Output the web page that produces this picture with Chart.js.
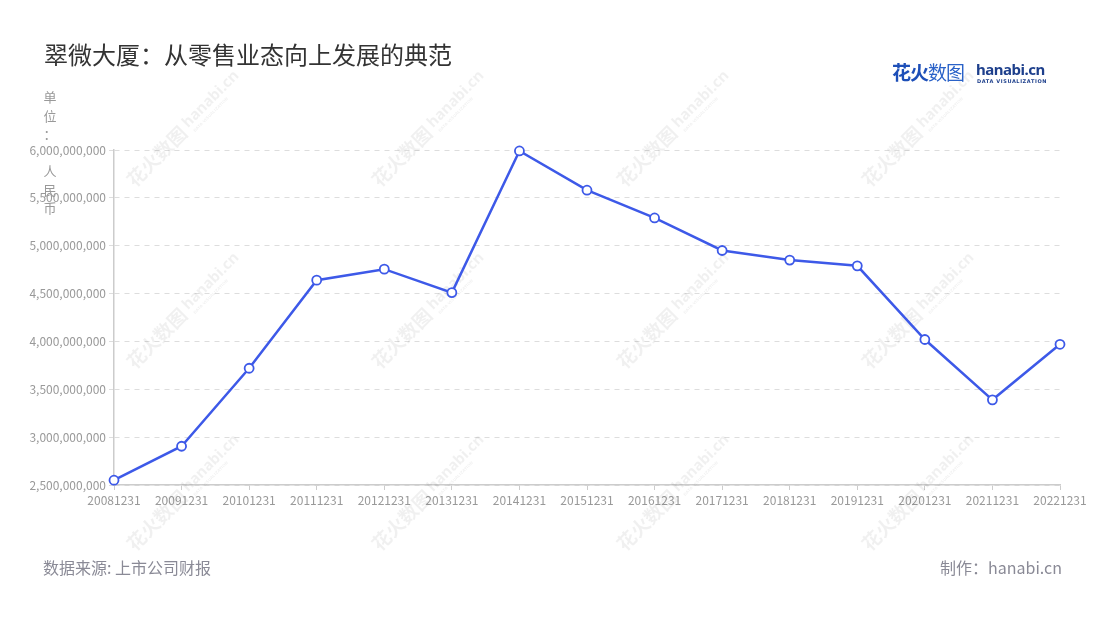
<!DOCTYPE html>
<html lang="zh">
<head>
    <meta charset="UTF-8">
    <title>翠微大厦</title>
    <script src="https://cdn.jsdelivr.net/npm/chart.js"></script>
    <style>
        body { margin: 0; background: #fff; font-family: "Noto Sans CJK SC", "Noto Sans", sans-serif; }
        .wrap { position: relative; width: 1100px; height: 620px; overflow: hidden; }
        #myChart { position: absolute; left: 0; top: 0; }
        .title { position: absolute; left: 44px; top: 36px; font-size: 24px; color: #333; }
        .unit { position: absolute; left: 42px; top: 88px; width: 16px; font-size: 13px; line-height: 18.5px; color: #999; text-align: center; }
        .source { position: absolute; left: 43px; top: 555px; font-size: 16px; color: #8a8a96; }
        .maker { position: absolute; right: 38px; top: 555px; font-size: 16px; color: #8a8a96; }
        .logo { position: absolute; left: 892px; top: 58px; height: 30px; }
        .logo .cn { position: absolute; left: 0; top: 0; font-size: 19px; font-weight: bold; color: #1d4fb8; white-space: nowrap; letter-spacing: -1px; }
        .logo .cn span { font-weight: normal; color: #2a62c8; }
        .logo .en { position: absolute; left: 84px; top: 1px; font-size: 15px; font-weight: bold; color: #1d3f8c; font-family: "Noto Sans", sans-serif; letter-spacing: -0.5px; }
        .logo .sub { position: absolute; left: 85px; top: 20px; font-size: 5px; font-weight: bold; color: #1d3f8c; letter-spacing: 0.6px; font-family: "DejaVu Sans", sans-serif; white-space: nowrap; }
    </style>
</head>
<body>
    <div class="wrap">
        <canvas id="myChart" width="1100" height="620"></canvas>
        <div class="title">翠微大厦：从零售业态向上发展的典范</div>
        <div class="unit">单<br>位<br>：<br>&nbsp;<br>人<br>民<br>币</div>
        <div class="logo">
            <div class="cn">花火<span>数图</span></div>
            <div class="en">hanabi.cn</div>
            <div class="sub">DATA VISUALIZATION</div>
        </div>
        <div class="source">数据来源: 上市公司财报</div>
        <div class="maker">制作：hanabi.cn</div>
    </div>

    <script>
        // Data
        var dates = ['20081231', '20091231', '20101231', '20111231', '20121231', '20131231', '20141231',
                     '20151231', '20161231', '20171231', '20181231', '20191231', '20201231', '20211231', '20221231'];
        var revenue = [2550000000, 2905000000, 3720000000, 4640000000, 4755000000, 4510000000, 5990000000,
                       5580000000, 5290000000, 4950000000, 4850000000, 4790000000, 4020000000, 3390000000, 3970000000];
        var yTicks = [2500000000, 3000000000, 3500000000, 4000000000, 4500000000, 5000000000, 5500000000, 6000000000];

        var fontFamily = '"Noto Sans CJK SC", "Noto Sans", sans-serif';

        // faint diagonal watermarks behind the line
        var watermark = {
            id: 'watermark',
            beforeDatasetsDraw: function(chart) {
                var ctx = chart.ctx;
                var cols = [185, 430, 675, 920];
                var rows = [128, 310, 492];
                ctx.save();
                ctx.fillStyle = 'rgba(0, 0, 0, 0.06)';
                rows.forEach(function(y) {
                    cols.forEach(function(x) {
                        ctx.save();
                        ctx.translate(x, y);
                        ctx.rotate(-Math.PI / 4);
                        ctx.textBaseline = 'middle';
                        ctx.font = 'bold 19px ' + fontFamily;
                        ctx.fillText('花火数图', -78, 0);
                        ctx.font = 'bold 15px "Noto Sans", sans-serif';
                        ctx.fillText('hanabi.cn', 2, -2);
                        ctx.font = 'bold 4px "DejaVu Sans", sans-serif';
                        ctx.fillText('DATA VISUALIZATION', 4, 9);
                        ctx.restore();
                    });
                });
                ctx.restore();
            }
        };

        var ctx = document.getElementById('myChart').getContext('2d');
        var myChart = new Chart(ctx, {
            type: 'line',
            data: {
                labels: dates,
                datasets: [{
                    data: revenue,
                    borderColor: '#3d59e8',
                    borderWidth: 2.5,
                    pointRadius: 4.5,
                    pointBorderWidth: 1.8,
                    pointBackgroundColor: '#ffffff',
                    pointBorderColor: '#3d59e8',
                    tension: 0,
                    fill: false,
                    clip: false
                }]
            },
            options: {
                responsive: false,
                animation: false,
                layout: { padding: { top: 150, right: 40, left: 0, bottom: 0 } },
                plugins: {
                    legend: { display: false },
                    tooltip: { enabled: false }
                },
                scales: {
                    x: {
                        offset: false,
                        afterFit: function(scale) { scale.height = 135; },
                        grid: { drawOnChartArea: false, drawTicks: true, tickLength: 5, color: '#cccccc' },
                        border: { color: '#cccccc', width: 1.5 },
                        ticks: {
                            color: '#999999',
                            font: { family: fontFamily, size: 12 },
                            maxRotation: 0,
                            autoSkip: false,
                            padding: 3
                        }
                    },
                    y: {
                        min: 2500000000,
                        max: 6000000000,
                        afterFit: function(scale) { scale.width = 114; },
                        afterBuildTicks: function(scale) {
                            scale.ticks = yTicks.map(function(v) { return { value: v }; });
                        },
                        grid: { color: '#dddddd', tickLength: 5, lineWidth: 1 },
                        border: { color: '#cccccc', width: 1.5, dash: [5, 5] },
                        ticks: {
                            color: '#999999',
                            font: { family: fontFamily, size: 12 },
                            padding: 3,
                            callback: function(value) { return value.toLocaleString('en-US'); }
                        }
                    }
                }
            },
            plugins: [watermark]
        });
    </script>
</body>
</html>
